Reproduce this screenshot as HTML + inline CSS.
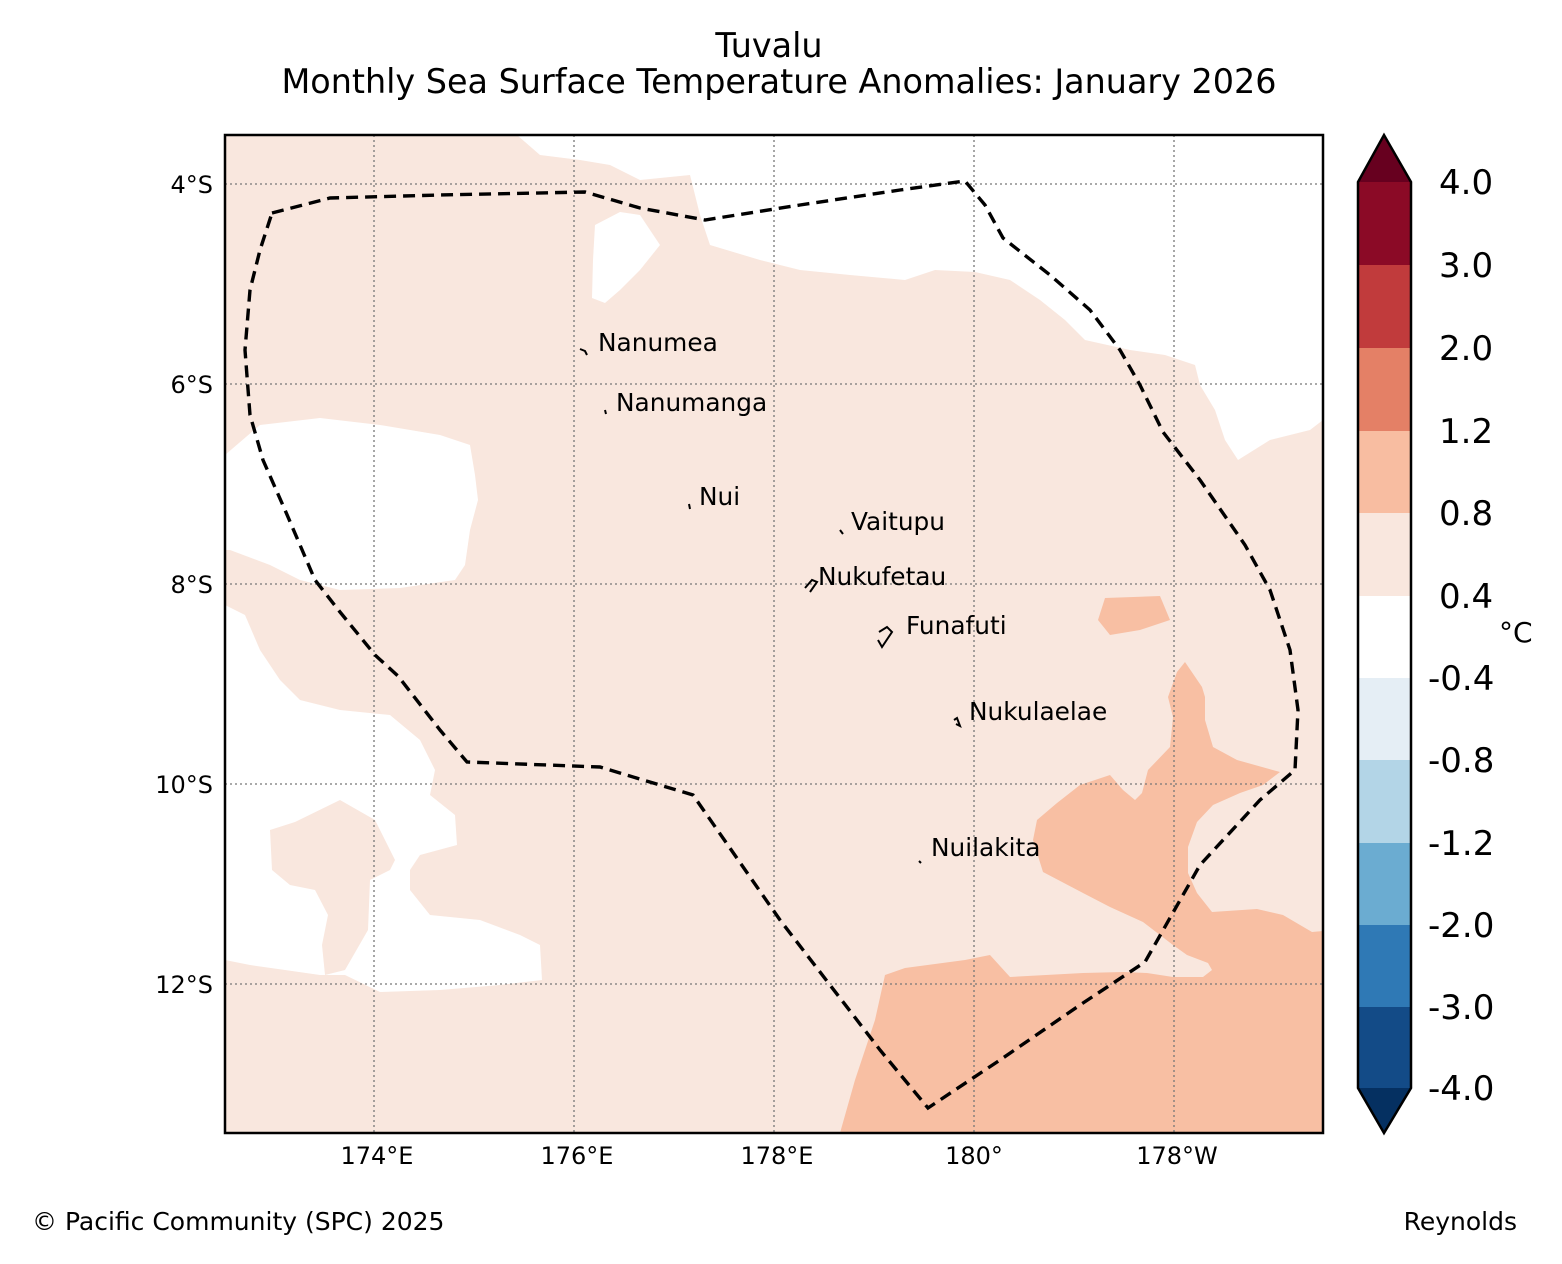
<!DOCTYPE html>
<html><head><meta charset="utf-8"><style>
body{margin:0;background:#fff;}
svg{display:block;font-family:"DejaVu Sans","Liberation Sans",sans-serif;}
</style></head><body>
<svg width="1562" height="1264" viewBox="0 0 1562 1264">
<text x="769" y="57" font-size="33.4" text-anchor="middle">Tuvalu</text>
<text x="779" y="93" font-size="33.4" text-anchor="middle">Monthly Sea Surface Temperature Anomalies: January 2026</text>
<defs><clipPath id="mc"><rect x="225" y="135" width="1098" height="998"/></clipPath></defs>
<g clip-path="url(#mc)">
<rect x="225" y="135" width="1098" height="998" fill="#f9e7de"/>
<polygon fill="#fff" points="517,135 540,155 580,160 610,165 640,180 690,175 700,215 710,245 760,260 800,270 850,275 905,280 935,270 975,272 1010,280 1040,300 1065,320 1085,340 1130,350 1165,355 1195,365 1200,385 1215,410 1225,440 1238,460 1270,440 1310,430 1323,420 1323,135"/>
<polygon fill="#fff" points="595,225 620,212 640,215 660,245 640,270 620,290 605,303 592,298 593,260"/>
<polygon fill="#fff" points="225,455 260,425 320,418 380,425 440,435 470,445 475,475 478,500 470,530 465,565 455,580 400,588 340,590 300,580 270,565 230,550 225,550"/>
<polygon fill="#fff" points="225,605 245,615 260,650 280,680 300,700 340,710 390,715 420,740 435,770 430,795 455,815 457,845 420,855 410,870 410,890 430,915 480,920 520,935 540,945 542,980 500,985 440,990 380,992 345,975 320,975 285,970 250,965 225,960"/>
<polygon fill="#f9e7de" points="270,830 295,822 340,800 375,820 395,860 390,870 370,880 368,930 345,970 325,975 322,945 328,915 315,890 290,885 272,870"/>
<polygon fill="#f8bfa3" points="1105,598 1160,596 1170,620 1140,630 1110,635 1098,620"/>
<polygon fill="#f8bfa3" points="1185,662 1202,687 1205,697 1205,720 1213,747 1237,760 1280,772 1263,785 1240,793 1213,805 1197,822 1188,847 1188,873 1197,893 1212,912 1257,909 1283,915 1312,932 1323,931 1323,1133 840,1133 855,1080 875,1020 885,975 905,968 965,960 990,955 1010,977 1083,973 1123,972 1147,973 1173,977 1203,977 1212,970 1208,963 1187,955 1173,945 1143,922 1110,907 1083,893 1043,872 1033,840 1037,820 1057,803 1080,785 1110,775 1123,790 1135,800 1142,793 1148,770 1170,747 1173,717 1168,697 1177,672"/>
<g stroke="#777" stroke-width="1.3" stroke-dasharray="2,3">
<line x1="374" y1="135" x2="374" y2="1133"/><line x1="574" y1="135" x2="574" y2="1133"/><line x1="774" y1="135" x2="774" y2="1133"/><line x1="974" y1="135" x2="974" y2="1133"/><line x1="1174" y1="135" x2="1174" y2="1133"/>
<line x1="225" y1="184" x2="1323" y2="184"/><line x1="225" y1="384" x2="1323" y2="384"/><line x1="225" y1="584" x2="1323" y2="584"/><line x1="225" y1="784" x2="1323" y2="784"/><line x1="225" y1="984" x2="1323" y2="984"/>
</g>
<polyline fill="none" stroke="#000" stroke-width="3.4" stroke-dasharray="12,7" points="272,213 330,198 440,195 585,192 640,208 705,220 800,205 900,190 965,181 985,205 1003,238 1050,275 1090,310 1120,350 1140,385 1163,432 1200,480 1245,545 1270,590 1290,650 1298,710 1295,770 1260,800 1200,865 1145,962 1080,1005 1000,1060 928,1108 880,1050 780,920 693,795 600,767 467,762 440,730 398,676 375,655 340,612 315,580 285,510 263,460 250,415 245,350 250,290 260,250 272,213"/>
<g fill="none" stroke="#000" stroke-width="2">
<path d="M580,349 L585,351 L587,355"/>
<path d="M605,410 L606,414"/>
<path d="M689,504 L690,509"/>
<path d="M840,530 L843,534"/>
<path d="M805,588 L812,580 L817,582 L810,592"/>
<path d="M879,632 L887,627 L892,632 L882,647 L878,640"/>
<path d="M954,720 L957,718 L960,726 L956,724"/>
<path d="M919,861 L921,863"/>
</g>
<g font-size="24.8" fill="#000">
<text x="598" y="351">Nanumea</text>
<text x="616" y="411">Nanumanga</text>
<text x="699" y="505">Nui</text>
<text x="851" y="530">Vaitupu</text>
<text x="818" y="585">Nukufetau</text>
<text x="906" y="634">Funafuti</text>
<text x="969" y="720">Nukulaelae</text>
<text x="931" y="856">Nuilakita</text>
</g>
</g>
<rect x="225" y="135" width="1098" height="998" fill="none" stroke="#000" stroke-width="2.5"/>
<g font-size="24" text-anchor="end">
<text x="213" y="193">4°S</text><text x="213" y="393">6°S</text><text x="213" y="593">8°S</text><text x="213" y="793">10°S</text><text x="213" y="993">12°S</text>
</g>
<g font-size="24" text-anchor="middle">
<text x="377" y="1164">174°E</text><text x="577" y="1164">176°E</text><text x="777" y="1164">178°E</text><text x="974" y="1164">180°</text><text x="1177" y="1164">178°W</text>
</g>
<g>
<polygon points="1358,182 1384,135 1411,182" fill="#67001f"/>
<rect x="1358" y="182" width="53" height="83" fill="#8b0a26"/>
<rect x="1358" y="265" width="53" height="83" fill="#c13b3c"/>
<rect x="1358" y="348" width="53" height="83" fill="#e48066"/>
<rect x="1358" y="431" width="53" height="82" fill="#f8bda1"/>
<rect x="1358" y="513" width="53" height="83" fill="#f9e7de"/>
<rect x="1358" y="596" width="53" height="82" fill="#ffffff"/>
<rect x="1358" y="678" width="53" height="82" fill="#e5eef5"/>
<rect x="1358" y="760" width="53" height="83" fill="#b3d5e7"/>
<rect x="1358" y="843" width="53" height="82" fill="#6bacd1"/>
<rect x="1358" y="925" width="53" height="82" fill="#2f79b5"/>
<rect x="1358" y="1007" width="53" height="81" fill="#134b87"/>
<polygon points="1358,1088 1384,1133 1411,1088" fill="#053061"/>
<polygon points="1358,182 1384,135 1411,182 1411,1088 1384,1133 1358,1088" fill="none" stroke="#000" stroke-width="2.5"/>
</g>
<g font-size="34">
<text x="1439" y="194">4.0</text><text x="1439" y="277">3.0</text><text x="1439" y="360">2.0</text><text x="1439" y="443">1.2</text><text x="1439" y="525">0.8</text><text x="1439" y="608">0.4</text><text x="1428" y="690">-0.4</text><text x="1428" y="772">-0.8</text><text x="1428" y="855">-1.2</text><text x="1428" y="937">-2.0</text><text x="1428" y="1019">-3.0</text><text x="1428" y="1100">-4.0</text>
</g>
<text x="1499" y="642" font-size="28">°C</text>
<text x="32" y="1230" font-size="25">© Pacific Community (SPC) 2025</text>
<text x="1517" y="1230" font-size="25" text-anchor="end">Reynolds</text>
</svg>
</body></html>
